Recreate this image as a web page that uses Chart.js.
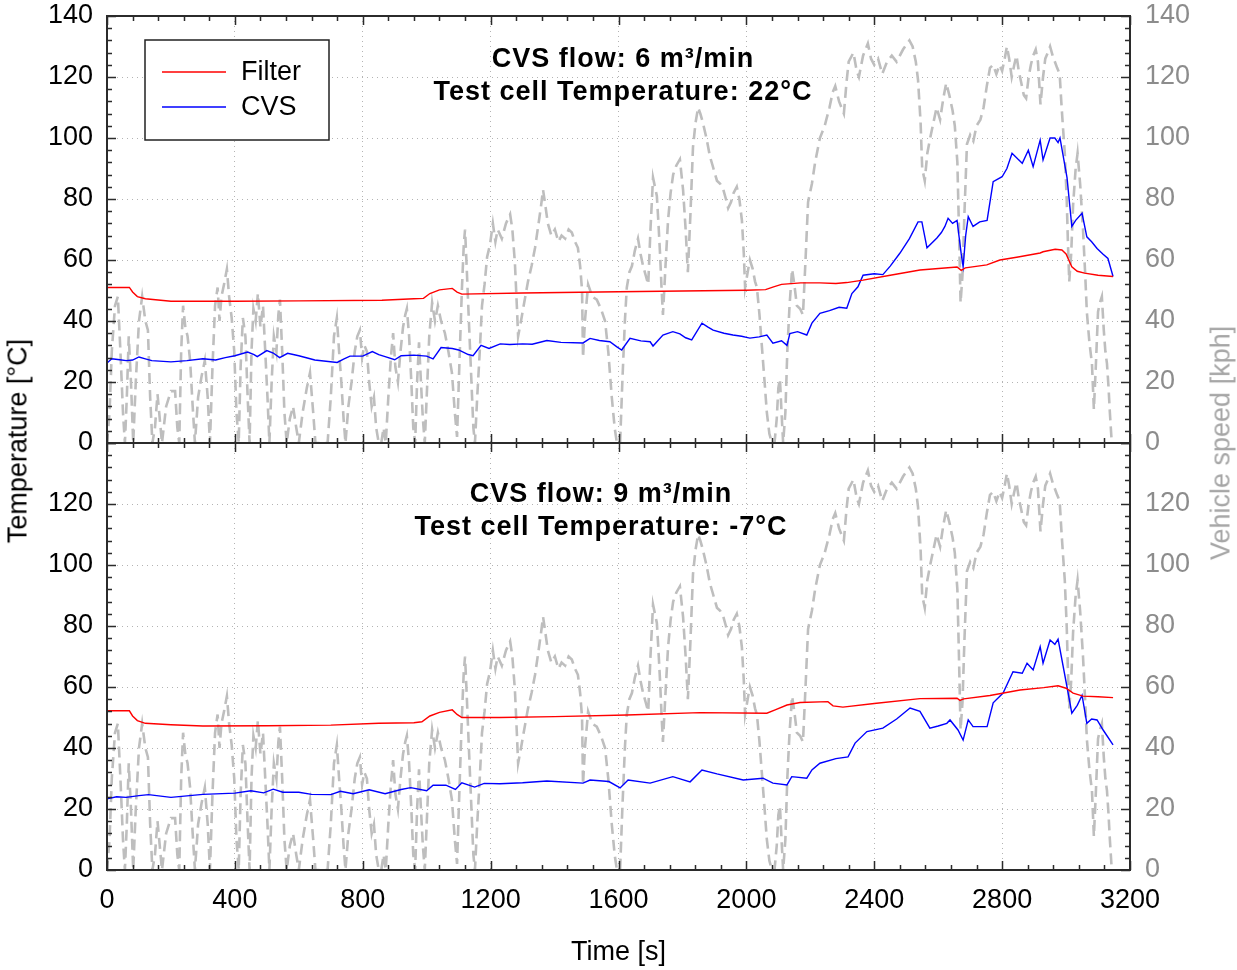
<!DOCTYPE html>
<html>
<head>
<meta charset="utf-8">
<script src="https://cdn.jsdelivr.net/npm/chart.js@4.4.1/dist/chart.umd.min.js"></script>
<style>
  body { margin: 0; background: #fff; }
  #wrap { position: relative; width: 1237px; height: 970px; overflow: hidden; font-family: "Liberation Sans", Arial, sans-serif; }
  canvas { position: absolute; left: 0; }
  .ytitle { position: absolute; font-size: 27px; white-space: nowrap; transform: translate(-50%, -50%) rotate(-90deg); }
</style>
</head>
<body>
<div id="wrap">
  <canvas id="topPanel" width="1237" height="470" style="top:0"></canvas>
  <canvas id="bottomPanel" width="1237" height="540" style="top:430px"></canvas>
  <div class="ytitle" style="left:18px; top:441px; color:#000">Temperature [°C]</div>
  <div class="ytitle" style="left:1221px; top:443px; color:#a6a6a6">Vehicle speed [kph]</div>
</div>
<script>
// vehicle speed trace (same drive cycle in both panels)
const speedTime = [
  0, 8, 15, 25, 34, 42, 50, 56, 62, 68,
  75, 82, 90, 100, 110, 120, 128, 135, 142, 150,
  158, 165, 172, 185, 200, 213, 220, 226, 232, 238,
  245, 252, 260, 268, 275, 285, 296, 306, 315, 322,
  330, 338, 346, 352, 358, 366, 375, 382, 390, 398,
  405, 412, 418, 425, 433, 440, 446, 452, 458, 465,
  472, 480, 488, 495, 502, 508, 515, 522, 530, 536,
  541, 548, 555, 562, 572, 582, 592, 600, 612, 625,
  635, 645, 652, 665, 680, 690, 700, 710, 719, 726,
  733, 740, 746, 755, 765, 775, 783, 791, 798, 805,
  813, 820, 828, 835, 842, 850, 858, 865, 872, 880,
  888, 895, 902, 910, 918, 926, 933, 938, 945, 952,
  958, 964, 970, 976, 982, 988, 994, 1000, 1008, 1017,
  1026, 1035, 1045, 1057, 1068, 1079, 1088, 1095, 1102, 1110,
  1116, 1120, 1125, 1132, 1140, 1146, 1151, 1158, 1166, 1173,
  1181, 1189, 1198, 1207, 1215, 1222, 1235, 1248, 1261, 1268,
  1276, 1282, 1286, 1295, 1305, 1317, 1328, 1339, 1350, 1358,
  1364, 1371, 1379, 1390, 1401, 1412, 1422, 1433, 1444, 1454,
  1464, 1473, 1480, 1486, 1489, 1495, 1505, 1518, 1532, 1545,
  1558, 1568, 1579, 1588, 1595, 1605, 1612, 1620, 1626, 1634,
  1642, 1651, 1661, 1669, 1677, 1685, 1693, 1700, 1708, 1714,
  1720, 1725, 1730, 1735, 1739, 1747, 1755, 1763, 1771, 1781,
  1792, 1797, 1802, 1810, 1817, 1825, 1833, 1841, 1849, 1856,
  1864, 1875, 1886, 1897, 1908, 1918, 1928, 1936, 1943, 1952,
  1960, 1970, 1978, 1986, 1992, 1996, 2004, 2011, 2020, 2027,
  2033, 2041, 2049, 2057, 2064, 2072, 2080, 2088, 2095, 2100,
  2105, 2110, 2115, 2122, 2128, 2135, 2143, 2150, 2158, 2168,
  2177, 2185, 2193, 2205, 2215, 2230, 2245, 2260, 2270, 2278,
  2290, 2305, 2313, 2320, 2335, 2345, 2352, 2365, 2380, 2390,
  2400, 2412, 2425, 2440, 2455, 2470, 2490, 2510, 2520, 2530,
  2537, 2545, 2550, 2558, 2566, 2575, 2585, 2595, 2606, 2616,
  2625, 2635, 2645, 2652, 2660, 2665, 2670, 2676, 2682, 2690,
  2700, 2710, 2720, 2732, 2742, 2752, 2762, 2772, 2782, 2792,
  2800, 2808, 2815, 2822, 2830, 2838, 2845, 2852, 2860, 2868,
  2875, 2883, 2890, 2897, 2905, 2912, 2920, 2928, 2935, 2943,
  2950, 2958, 2965, 2972, 2980, 2985, 2990, 2996, 3002, 3006,
  3010, 3016, 3022, 3030, 3036, 3044, 3053, 3060, 3065, 3073,
  3081, 3087, 3093, 3100, 3106, 3112, 3118, 3123, 3128, 3133,
  3137, 3140, 3143
];
const speedKph = [
  0, 10, 30, 45, 48, 30, 10, 0, 15, 35,
  20, 0, 20, 40, 48, 40, 37, 15, 0, 5,
  16, 8, 0, 12, 17, 17, 5, 0, 30, 45,
  38, 35, 27, 12, 0, 15, 22, 27, 15, 0,
  25, 45, 51, 40, 48, 52, 57, 48, 41, 30,
  10, 0, 25, 41, 35, 15, 0, 30, 44, 40,
  49, 38, 45, 30, 15, 0, 20, 35, 30, 42,
  47, 30, 10, 0, 8, 12, 5, 0, 10, 18,
  23, 10, 0, 0, 0, 0, 15, 35, 41, 30,
  20, 8, 0, 12, 20, 30, 35, 37, 28, 32,
  30, 20, 12, 15, 5, 0, 0, 5, 0, 15,
  28, 36, 25, 20, 30, 38, 42, 44, 35, 20,
  5, 0, 20, 33, 20, 8, 0, 15, 35, 46,
  40, 45, 40, 36, 30, 23, 10, 2, 25, 50,
  65, 70, 58, 40, 20, 5, 0, 15, 30, 45,
  52, 61, 65, 72, 66, 70, 67, 72, 75, 70,
  59, 45, 35, 40, 46, 53, 58, 64, 72, 78,
  83, 78, 72, 68, 70, 66, 68, 67, 70, 69,
  66, 64, 58, 50, 28, 40, 52, 48, 47, 44,
  40, 30, 15, 5, 0, 0, 20, 40, 51, 56,
  58, 63, 67, 62, 58, 55, 52, 70, 87, 84,
  81, 72, 62, 50, 42, 58, 73, 82, 88, 91,
  93, 88, 83, 70, 56, 75, 97, 105, 110, 108,
  105, 100, 94, 90, 86, 85, 83, 80, 77, 79,
  82, 84, 80, 73, 62, 51, 56, 60, 57, 53,
  51, 42, 31, 20, 10, 3, 0, 0, 8, 18,
  21, 10, 0, 10, 30, 45, 57, 52, 45, 44,
  42, 60, 79, 85, 92, 100, 104, 110, 115, 117,
  112, 108, 118, 125, 128, 122, 120, 127, 131, 126,
  124, 126, 121, 125, 127, 125, 129, 132, 130, 125,
  119, 105, 90, 86, 95, 100, 105, 110, 106, 113,
  118, 114, 109, 104, 92, 70, 46, 55, 75, 98,
  101, 99, 104, 106, 110, 117, 123, 124, 121, 124,
  122, 126, 130, 126, 120, 124, 127, 122, 118, 114,
  113, 120, 124, 127, 129, 125, 111, 120, 126, 128,
  130, 127, 125, 123, 121, 112, 104, 95, 80, 65,
  53, 62, 78, 90, 95, 85, 70, 55, 43, 33,
  26, 11, 25, 43, 46, 48, 37, 30, 26, 18,
  10, 5, 0
];

// top panel: CVS flow 6 m3/min, 22 °C
const filterTopTime = [
  0, 70, 80, 95, 120, 200, 400, 600, 860, 960,
  990, 1010, 1040, 1080, 1095, 1110, 1300, 1600, 2000, 2060,
  2085, 2110, 2170, 2230, 2280, 2314, 2365, 2450, 2543, 2659,
  2672, 2685, 2752, 2793, 2850, 2919, 2928, 2966, 2987, 3000,
  3018, 3035, 3058, 3100, 3147
];
const filterTopTemp = [
  51, 51, 49.5, 48, 47.3, 46.5, 46.5, 46.6, 46.8, 47.3,
  47.4, 49, 50.2, 50.7, 49.5, 48.8, 49.2, 49.6, 50.1, 50.3,
  51.2, 52, 52.5, 52.5, 52.3, 52.6, 53.4, 55, 56.7, 57.7,
  56.6, 57.4, 58.4, 60, 61, 62.3, 62.7, 63.5, 63.3, 62,
  57.8, 56.3, 55.7, 55, 54.6
];
const cvsTopTime = [
  0, 15, 40, 60, 80, 100, 120, 140, 200, 250,
  300, 340, 370, 400, 440, 460, 470, 500, 520, 540,
  565, 600, 650, 720, 740, 760, 800, 830, 850, 870,
  900, 920, 960, 1000, 1020, 1045, 1080, 1100, 1130, 1145,
  1170, 1195, 1230, 1260, 1300, 1330, 1376, 1420, 1489, 1511,
  1540, 1573, 1595, 1610, 1636, 1670, 1699, 1708, 1739, 1770,
  1792, 1810, 1829, 1861, 1880, 1896, 1930, 1958, 1985, 2011,
  2040, 2064, 2083, 2110, 2127, 2136, 2160, 2189, 2205, 2230,
  2260, 2290, 2314, 2330, 2349, 2365, 2400, 2427, 2450, 2480,
  2510, 2537, 2549, 2565, 2596, 2610, 2621, 2631, 2645, 2659,
  2672, 2678, 2686, 2694, 2709, 2730, 2753, 2772, 2800, 2815,
  2831, 2850, 2863, 2882, 2897, 2919, 2928, 2950, 2965, 2975,
  2981, 3003, 3018, 3030, 3050, 3065, 3080, 3097, 3115, 3131,
  3147
];
const cvsTopTemp = [
  26.2, 27.6, 27.3, 27, 27.2, 28.2, 27.6, 27, 26.6, 27,
  27.6, 27.2, 28, 28.6, 29.8, 29, 28.3, 30.3, 29.5, 28,
  29.4, 28.6, 27.2, 26.4, 27.5, 28.5, 28.5, 30, 29, 28.3,
  27.3, 28.6, 28.8, 28.5, 27.6, 31.3, 31, 30.5, 29, 28.6,
  32, 31, 32.5, 32.3, 32.5, 32.4, 33.6, 33, 32.8, 34.3,
  33.6, 33.2, 31.5, 30.5, 34.3, 33.5, 33.2, 31.8, 35.4, 36.5,
  35.8, 34.5, 33.8, 39.3, 38, 37, 36, 35.4, 35, 34.4,
  34.8, 35.4, 32.7, 33.5, 32, 35.9, 36.5, 35.4, 39.3, 42.5,
  43.4, 44.5, 44.2, 49, 51.2, 55, 55.5, 55.2, 58, 62.2,
  67, 72.5, 72.5, 64, 67.2, 69, 71, 73.7, 72, 73,
  62, 57.8, 68, 74.2, 71, 72.5, 73, 85.7, 87.3, 90,
  95, 93, 91.7, 96, 90.6, 99.3, 92.8, 100, 100, 98.5,
  100, 87, 71, 73, 75.3, 67.6, 66, 63.8, 62, 60.5,
  54.6
];

// bottom panel: CVS flow 9 m3/min, -7 °C
const filterBotTime = [
  0, 70, 80, 95, 120, 200, 300, 500, 700, 850,
  960, 985, 1010, 1040, 1080, 1095, 1110, 1229, 1400, 1626,
  1855, 2064, 2090, 2127, 2168, 2255, 2271, 2302, 2400, 2543,
  2659, 2668, 2680, 2762, 2856, 2930, 2975, 3000, 3022, 3053,
  3100, 3147
];
const filterBotTemp = [
  52.2, 52.2, 50.5, 49, 48.1, 47.6, 47.2, 47.3, 47.5, 48.1,
  48.3, 48.6, 50.5, 51.7, 52.5, 51, 50, 50, 50.3, 50.8,
  51.6, 51.4, 52.5, 54.1, 54.9, 55.2, 53.8, 53.4, 54.6, 56.2,
  56.3, 55.6, 56.1, 57.2, 59, 59.8, 60.4, 59.6, 58, 57,
  56.8, 56.5
];
const cvsBotTime = [
  0, 30, 60, 100, 130, 200, 300, 400, 450, 490,
  520, 550, 600, 640, 700, 730, 770, 820, 870, 920,
  950, 1000, 1020, 1060, 1090, 1110, 1150, 1180, 1229, 1300,
  1376, 1489, 1511, 1570, 1605, 1630, 1699, 1770, 1824, 1861,
  1908, 1990, 2052, 2083, 2127, 2142, 2189, 2205, 2230, 2280,
  2318, 2340, 2377, 2427, 2470, 2512, 2543, 2574, 2600, 2627,
  2637, 2662, 2678, 2694, 2709, 2753, 2772, 2803, 2834, 2863,
  2878, 2897, 2919, 2928, 2950, 2965, 2975, 3003, 3018, 3035,
  3050, 3065, 3080, 3097, 3116, 3147
];
const cvsBotTemp = [
  23.3, 24, 23.8, 24.4, 24.7, 23.8, 24.8, 25.2, 26, 25.3,
  26.5, 25.5, 25.5, 24.8, 24.7, 25.8, 25, 26.3, 25, 26.4,
  27, 26, 27.8, 27.8, 26.4, 28.6, 27.2, 28.4, 28.3, 28.6,
  29.2, 28.5, 29.5, 29, 26.9, 29.5, 28.5, 30.6, 28.9, 32.8,
  31.5, 29.5, 30.1, 28.5, 27.9, 30.6, 30.1, 32.8, 35, 36.5,
  37.1, 41.6, 45.4, 46.5, 49.5, 53.1, 52, 46.5, 47.2, 48.1,
  49.2, 45.9, 42.6, 49.2, 47, 47, 54.8, 58, 65, 64.5,
  67.8, 65.6, 73.2, 67.8, 75.4, 74, 75.7, 60, 51.4, 54,
  57.3, 48.1, 49.5, 49.2, 45.9, 41
];

const panelTitles = [
  ['CVS flow: 6 m\u00B3/min', 'Test cell Temperature: 22\u00B0C'],
  ['CVS flow: 9 m\u00B3/min', 'Test cell Temperature: -7\u00B0C']
];

const FONT = '"Liberation Sans", Arial, sans-serif';
Chart.defaults.font.family = FONT;
Chart.defaults.font.size = 27;
Chart.defaults.color = '#000';

const pts = (xs, ys) => xs.map((x, i) => ({ x: x, y: ys[i] }));

const panelDecor = {
  id: 'panelDecor',
  afterDatasetsDraw(chart, args, o) {
    const { ctx, chartArea: a, scales } = chart;
    ctx.save();
    ctx.strokeStyle = '#2b2b2b';
    ctx.lineWidth = 2;
    ctx.strokeRect(a.left, a.top, a.right - a.left, a.bottom - a.top);

    // inward ticks on all four sides
    ctx.lineWidth = 1.5;
    ctx.beginPath();
    const sx = scales.x;
    for (let v = sx.min; v <= sx.max; v += 80) {
      const x = Math.round(sx.getPixelForValue(v)) + 0.5;
      const len = v % 400 === 0 ? 9 : 5;
      ctx.moveTo(x, a.bottom); ctx.lineTo(x, a.bottom - len);
      ctx.moveTo(x, a.top); ctx.lineTo(x, a.top + len);
    }
    ['y', 'ySpeed'].forEach(id => {
      const s = scales[id];
      const edge = s.position === 'left' ? a.left : a.right;
      const dir = s.position === 'left' ? 1 : -1;
      for (let v = s.min; v <= s.max; v += 4) {
        const y = Math.round(s.getPixelForValue(v)) + 0.5;
        const len = v % 20 === 0 ? 9 : 5;
        ctx.moveTo(edge, y); ctx.lineTo(edge + dir * len, y);
      }
    });
    ctx.stroke();

    // panel annotation
    ctx.fillStyle = '#000';
    ctx.font = 'bold 27px ' + FONT;
    ctx.letterSpacing = '1px';
    ctx.textAlign = 'center';
    ctx.textBaseline = 'middle';
    o.lines.forEach((t, i) => ctx.fillText(t, a.left + o.textX, a.top + o.textY[i]));
    ctx.letterSpacing = '0px';

    // legend box
    if (o.legend) {
      const L = o.legend;
      const x0 = a.left + L.x, y0 = a.top + L.y;
      ctx.fillStyle = '#fff';
      ctx.fillRect(x0, y0, L.w, L.h);
      ctx.strokeStyle = '#222';
      ctx.lineWidth = 1.5;
      ctx.strokeRect(x0, y0, L.w, L.h);
      ctx.font = '27px ' + FONT;
      ctx.textAlign = 'left';
      chart.data.datasets.slice(0, 2).forEach((ds, i) => {
        const yy = y0 + L.rowY[i];
        ctx.strokeStyle = ds.borderColor;
        ctx.lineWidth = 1.5;
        ctx.beginPath();
        ctx.moveTo(x0 + 17, yy); ctx.lineTo(x0 + 81, yy);
        ctx.stroke();
        ctx.fillStyle = '#000';
        ctx.fillText(ds.label, x0 + 96, yy + 1);
      });
    }
    ctx.restore();
  }
};

// keep tick labels from pushing the plot area around
const noLabelPadding = s => {
  s.paddingTop = 0; s.paddingBottom = 0; s.paddingLeft = 0; s.paddingRight = 0;
};

function makePanel(id, filterData, cvsData, cfg) {
  return new Chart(document.getElementById(id), {
    type: 'line',
    data: {
      datasets: [
        { label: 'Filter', data: filterData, borderColor: '#ff0000', borderWidth: 1.4, pointRadius: 0, yAxisID: 'y' },
        { label: 'CVS', data: cvsData, borderColor: '#0000ff', borderWidth: 1.4, pointRadius: 0, yAxisID: 'y' },
        { label: 'Vehicle speed', data: pts(speedTime, speedKph), borderColor: '#bebebe', borderWidth: 2.6,
          borderDash: [11, 6], pointRadius: 0, yAxisID: 'ySpeed' }
      ]
    },
    options: {
      responsive: false,
      animation: false,
      layout: { padding: cfg.padding },
      plugins: {
        legend: { display: false },
        tooltip: { enabled: false },
        panelDecor: cfg.decor
      },
      scales: {
        x: {
          type: 'linear', min: 0, max: 3200,
          ticks: { display: cfg.showX, stepSize: 400, autoSkip: false, maxRotation: 0, padding: 14, color: '#000',
                   callback: v => String(v) },
          grid: { color: '#b4b4b4', lineWidth: 1, drawTicks: false },
          border: { display: false, dash: [1, 4] },
          title: { display: cfg.showX, text: 'Time [s]', font: { size: 27 }, padding: { top: 0, bottom: 1 } },
          afterFit: s => { s.height = cfg.xHeight; noLabelPadding(s); }
        },
        y: {
          position: 'left', min: 0, max: 140,
          ticks: { stepSize: 20, padding: 14, color: '#000', callback: v => (v > cfg.maxLabel ? '' : String(v)) },
          grid: { color: '#b4b4b4', lineWidth: 1, drawTicks: false },
          border: { display: false, dash: [1, 4] },
          afterFit: s => { s.width = 107; noLabelPadding(s); }
        },
        ySpeed: {
          position: 'right', min: 0, max: 140,
          ticks: { stepSize: 20, padding: 15, color: '#8c8c8c', callback: v => (v > cfg.maxLabel ? '' : String(v)) },
          grid: { display: false, drawTicks: false },
          border: { display: false },
          afterFit: s => { s.width = 107; noLabelPadding(s); }
        }
      }
    },
    plugins: [panelDecor]
  });
}

makePanel('topPanel', pts(filterTopTime, filterTopTemp), pts(cvsTopTime, cvsTopTemp), {
  padding: { top: 16, bottom: 27, left: 0, right: 0 },
  xHeight: 0, showX: false, maxLabel: 140,
  decor: {
    lines: panelTitles[0], textX: 516, textY: [44, 77],
    legend: { x: 38, y: 24, w: 184, h: 100, rowY: [32, 67] }
  }
});

makePanel('bottomPanel', pts(filterBotTime, filterBotTemp), pts(cvsBotTime, cvsBotTemp), {
  padding: { top: 13, bottom: 0, left: 0, right: 0 },
  xHeight: 100, showX: true, maxLabel: 120,
  decor: { lines: panelTitles[1], textX: 494, textY: [52, 85] }
});
</script>
</body>
</html>
